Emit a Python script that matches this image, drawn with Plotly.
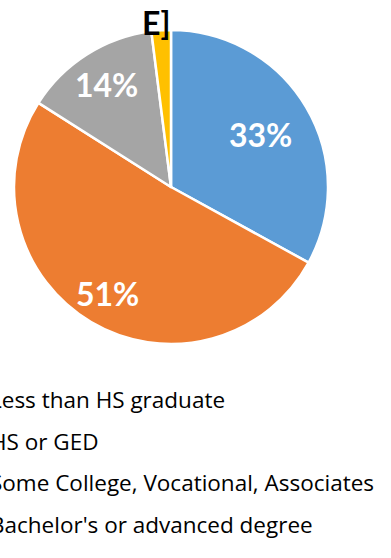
import math
import plotly.graph_objects as go

# Educational attainment shares
categories = [
    "Less than HS graduate",
    "HS or GED",
    "Some College, Vocational, Associates",
    "Bachelor's or advanced degree",
]
shares = [33, 51, 14, 2]
colors = ["#5B9BD5", "#ED7D31", "#A5A5A5", "#FFC000"]

W, H = 391, 558
cx, cy, r = 171, 187, 157

fig = go.Figure(
    go.Pie(
        labels=categories,
        values=shares,
        sort=False,
        direction="clockwise",
        rotation=0,
        marker=dict(colors=colors, line=dict(color="white", width=2.5)),
        textinfo="none",
        domain=dict(x=[(cx - r) / W, (cx + r) / W], y=[1 - (cy + r) / H, 1 - (cy - r) / H]),
        showlegend=False,
        hoverinfo="label+percent",
    )
)

# Percentage labels placed along each slice's bisector
label_radius = [0.66, 0.79, 0.77, None]
total = sum(shares)
start = 0.0
for v, fr in zip(shares, label_radius):
    mid = (start + v / 2) / total * 2 * math.pi
    start += v
    if fr is None:
        continue
    px = cx + fr * r * math.sin(mid)
    py = cy - fr * r * math.cos(mid)
    fig.add_annotation(
        text=f"{round(v / total * 100)}%", x=px / W, y=1 - py / H,
        xref="paper", yref="paper", xanchor="center", yanchor="middle",
        showarrow=False,
        font=dict(family="Lato", size=32, color="white", weight="bold"),
    )

# Clipped data label above the small slice
fig.add_annotation(
    text="E]", x=156 / W, y=1 - 22 / H, xref="paper", yref="paper",
    xanchor="center", yanchor="middle", showarrow=False,
    font=dict(family="Lato", size=32, color="black", weight="bold"),
)

# Legend entries listed below the pie
legend_y = [399, 441, 482, 524]
for name, py in zip(categories, legend_y):
    fig.add_annotation(
        text=name, x=-12.5 / W, y=1 - py / H, xref="paper", yref="paper",
        xanchor="left", yanchor="middle", showarrow=False,
        font=dict(family="Open Sans", size=22.5, color="black"),
    )

fig.update_layout(
    width=W, height=H,
    margin=dict(l=0, r=0, t=0, b=0, autoexpand=False),
    paper_bgcolor="white", plot_bgcolor="white",
)

fig.write_html("out.html")
